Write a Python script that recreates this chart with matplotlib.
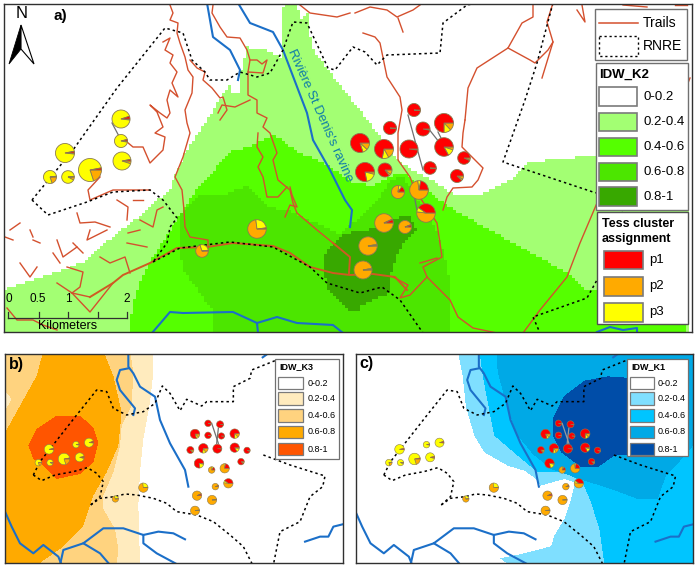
import numpy as np
import matplotlib
matplotlib.use("Agg")
import matplotlib.pyplot as plt
from matplotlib.colors import ListedColormap
from matplotlib.patches import Polygon, Rectangle
from matplotlib.path import Path

plt.rcParams['font.family'] = ['Liberation Sans', 'DejaVu Sans']

W, H = 697, 568

# sites: panel a in image pixels, panels b and c in their own map units
site_x_a = [121, 121, 122, 65, 90, 68, 50, 257, 202, 414, 444, 423, 390, 360, 384, 409, 444, 464, 430, 365, 385, 457, 419, 398, 426, 384, 405, 368, 363]
site_y_a = [119, 141, 161, 153, 170, 177, 177, 229, 251, 110, 123, 129, 128, 143, 149, 149, 147, 158, 168, 172, 170, 176, 190, 192, 213, 223, 227, 246, 270]
site_r_a = [9, 6.5, 9, 9.5, 11.5, 6.3, 6.5, 9.3, 6.3, 6.5, 9.5, 7, 6.5, 9.5, 9.5, 9, 9.3, 6.3, 6.3, 9.5, 7, 6.5, 9.3, 6.5, 9.3, 9.3, 6.5, 9.2, 9]
site_x_b = [267, 228, 239, 147, 192, 150, 115, 430, 346, 624, 704, 660, 624, 585, 610, 652, 704, 741, 664, 597, 571, 723, 674, 635, 685, 591, 646, 636, 585]
site_y_b = [308, 314, 352, 328, 357, 368, 368, 443, 477, 250, 281, 253, 286, 282, 325, 326, 323, 331, 288, 370, 330, 365, 385, 390, 430, 467, 440, 480, 512]
share_p1 = [.05, .04, .03, .03, .03, .01, .02, .02, .02, .98, .75, .97, .98, .80, .72, .98, .83, .93, .98, .78, .85, .88, .22, .15, .40, .06, .05, .01, .01]
share_p2 = [.02, .03, .05, .02, .20, .08, .20, .73, .70, .01, .13, .02, .01, .12, .17, .01, .05, .06, .01, .04, .11, .08, .73, .77, .52, .93, .94, .97, .97]
share_p3 = [.93, .93, .92, .95, .77, .91, .78, .25, .28, .01, .12, .01, .01, .08, .11, .01, .12, .01, .01, .18, .04, .04, .05, .08, .08, .01, .01, .02, .02]

class_labels = ['0-0.2', '0.2-0.4', '0.4-0.6', '0.6-0.8', '0.8-1']
tess_labels = ['p1', 'p2', 'p3']
colors_k2 = ['#FFFFFF', '#A3FF73', '#55FF00', '#4CE600', '#38A800']
colors_k3 = ['#FFFFFF', '#FFEBBE', '#FFD37F', '#FFAA00', '#FF5500']
colors_k1 = ['#FFFFFF', '#7FDFFF', '#00C5FF', '#00A9E6', '#004DA8']
tess_colors = ['#FF0000', '#FFAA00', '#FFFF00']
trail_col = '#D4502E'
river_col = '#1B6FC8'

# panel a zones
k2_light = [(4, 333), (4, 291), (33, 282), (87, 263), (110, 240), (140, 217), (170, 190), (187, 152), (213, 113), (233, 82), (233, 93), (242, 93), (242, 73), (248, 47), (267, 50), (282, 57), (283, 10), (287, 3), (297, 3), (302, 20), (310, 12), (312, 47), (350, 97), (400, 163), (443, 187), (457, 197), (477, 197), (493, 190), (513, 180), (527, 165), (557, 160), (597, 157), (692, 157), (692, 333)]
k2_bright = [(130, 333), (132, 310), (143, 277), (160, 247), (180, 217), (200, 187), (233, 152), (250, 148), (275, 135), (297, 152), (323, 163), (353, 183), (373, 187), (403, 173), (427, 190), (450, 208), (507, 240), (573, 277), (588, 293), (640, 290), (687, 277), (687, 333)]
k2_mid = [(213, 333), (215, 315), (183, 270), (180, 217), (200, 197), (223, 197), (247, 187), (267, 207), (293, 213), (340, 235), (363, 217), (380, 200), (390, 183), (403, 177), (413, 190), (427, 213), (437, 230), (445, 253), (450, 280), (450, 333)]
k2_dark = [(325, 260), (328, 253), (345, 235), (373, 230), (393, 220), (410, 217), (418, 232), (403, 245), (397, 260), (390, 280), (390, 295), (362, 307), (360, 313), (348, 312), (330, 293), (326, 277)]

# panel b zones
k3_light = [(10, 35), (460, 35), (460, 100), (450, 190), (430, 300), (420, 400), (415, 500), (420, 675), (10, 675)]
k3_soft = [(10, 35), (390, 35), (400, 100), (395, 200), (365, 260), (360, 320), (340, 400), (310, 470), (310, 510), (345, 570), (355, 630), (350, 675), (10, 675), (10, 225), (35, 180), (10, 150)]
k3_orange = [(130, 35), (310, 35), (340, 110), (365, 220), (355, 320), (320, 400), (280, 470), (250, 560), (180, 630), (115, 675), (10, 675), (10, 290), (60, 200), (110, 110)]
k3_deep = [(85, 320), (110, 270), (170, 230), (240, 230), (280, 265), (295, 310), (280, 370), (240, 405), (170, 420), (130, 380), (100, 360)]

# panel c zones
k1_white = [(10, 35), (320, 35), (335, 110), (345, 205), (370, 290), (400, 340), (470, 380), (520, 395), (555, 420), (568, 440), (640, 420), (672, 430), (660, 480), (640, 540), (610, 590), (600, 622), (510, 645), (447, 658), (470, 675), (10, 675)]
k1_cyan = [(385, 35), (1035, 35), (1035, 675), (760, 675), (745, 570), (720, 490), (695, 430), (640, 400), (560, 400), (500, 350), (430, 290), (415, 215), (395, 110)]
k1_mid = [(437, 35), (1035, 35), (1035, 310), (975, 380), (945, 410), (920, 480), (860, 480), (780, 450), (700, 425), (600, 390), (545, 345), (500, 290), (470, 210), (440, 100)]
k1_dark = [(605, 240), (640, 170), (700, 125), (770, 112), (880, 120), (880, 345), (790, 350), (740, 385), (690, 385), (630, 340), (605, 290)]

# trails in panel a
trails_main = [
    [(90, 297), (113, 283), (123, 275), (150, 263), (177, 248), (207, 247), (233, 243), (273, 246), (290, 253), (310, 267), (333, 273), (350, 275), (373, 274), (395, 277), (407, 290)],
    [(333, 243), (350, 257), (349, 273)],
]
trails_thin = [
    [(213, 5), (212, 13), (220, 27), (227, 37), (240, 38), (247, 50), (250, 60), (248, 72), (248, 95), (257, 100), (257, 113), (267, 118), (263, 127), (270, 133), (277, 153), (273, 160), (278, 180), (290, 190), (293, 203), (297, 213), (317, 230), (333, 243)],
    [(218, 113), (222, 105), (235, 107), (250, 100)],
    [(250, 60), (257, 60), (262, 64), (267, 60), (263, 73), (248, 72)],
    [(258, 133), (257, 147), (263, 157), (258, 167), (263, 177), (267, 197), (278, 197), (287, 187)],
    [(285, 217), (290, 205), (297, 207), (292, 195), (290, 187)],
    [(170, 5), (173, 13), (170, 20), (178, 23), (177, 33), (180, 43), (185, 57), (188, 70), (193, 77), (192, 93), (185, 110), (187, 123), (190, 133), (183, 157), (175, 177), (182, 190), (184, 210), (185, 227), (190, 237), (208, 240), (208, 248)],
    [(163, 42), (170, 38), (165, 50), (173, 55), (170, 63), (177, 72), (172, 83), (178, 97), (170, 90), (167, 100), (170, 113), (167, 118), (160, 113), (150, 105), (157, 112), (163, 127), (155, 133), (165, 137), (163, 150), (150, 163), (143, 147), (133, 147), (127, 142), (121, 140)],
    [(190, 60), (197, 68), (205, 72), (203, 80), (212, 88), (220, 98), (223, 97), (227, 110), (220, 120)],
    [(100, 177), (88, 190), (90, 200), (113, 190), (150, 190)],
    [(77, 213), (80, 223), (95, 222), (110, 227)], [(90, 230), (87, 240), (107, 230)], [(117, 200), (128, 207), (127, 220)],
    [(133, 200), (143, 200)], [(140, 220), (153, 227), (157, 210), (163, 207)], [(128, 233), (140, 230)], [(127, 243), (147, 247)],
    [(57, 240), (63, 257), (77, 247)], [(73, 243), (83, 253)], [(20, 263), (30, 277), (37, 267)], [(10, 230), (20, 223)],
    [(30, 230), (33, 237)], [(5, 237), (13, 240)], [(40, 243), (33, 240)], [(53, 253), (60, 263)],
    [(100, 257), (110, 263), (125, 257), (130, 273)], [(67, 267), (83, 272), (80, 287), (72, 293)],
    [(57, 283), (72, 293), (90, 312), (113, 283)], [(72, 293), (90, 297)], [(7, 308), (17, 320), (33, 320), (43, 325), (57, 330)],
    [(300, 5), (310, 13), (337, 17), (350, 13)], [(355, 13), (370, 7), (387, 10), (397, 17), (413, 10), (420, 5)], [(398, 18), (403, 32)],
    [(363, 33), (375, 37), (380, 43), (387, 77), (400, 97), (402, 110), (398, 133), (398, 160), (410, 177), (415, 190), (437, 223), (442, 257), (423, 267), (427, 277), (450, 300), (458, 317), (473, 328), (497, 333)],
    [(427, 277), (410, 295), (400, 298), (408, 285), (393, 277)],
    [(420, 263), (437, 258)],
    [(465, 120), (468, 88), (477, 68), (508, 48), (522, 23), (533, 17), (533, 3)],
    [(508, 48), (530, 60), (535, 63), (548, 50), (553, 42), (547, 22), (553, 3)],
    [(553, 42), (542, 78)],
    [(465, 120), (463, 133), (462, 147), (472, 157), (483, 168), (478, 180), (472, 187), (453, 188), (447, 197), (443, 210)],
    [(577, 10), (585, 22), (582, 5)], [(623, 5), (647, 7)], [(675, 5), (687, 5)], [(688, 83), (690, 78)],
    [(523, 333), (540, 310), (567, 277), (580, 243), (597, 203)],
]

# rivers and reserve outline in panel a
rivers_a = [
    [(238, 3), (250, 23), (273, 32), (283, 50), (307, 113), (313, 140), (330, 170), (345, 200), (352, 210), (350, 227)],
    [(207, 3), (213, 37), (230, 50), (240, 70), (238, 80)],
    [(152, 333), (170, 312), (183, 313), (233, 312), (257, 323), (277, 317), (297, 323), (333, 325), (343, 333)],
    [(257, 323), (258, 333)],
    [(597, 332), (610, 327), (623, 330), (637, 328), (637, 333)],
]
bound_a = [
    [(32, 200), (73, 150), (117, 88), (165, 28), (183, 33), (192, 60), (205, 72), (210, 80), (227, 80), (240, 72), (257, 77), (270, 73), (283, 50), (293, 22), (307, 23), (328, 68), (335, 70), (353, 47), (365, 52), (377, 65), (387, 55), (440, 53), (443, 23), (467, 5), (477, 3)],
    [(553, 3), (537, 63), (525, 100), (503, 162), (527, 170), (593, 192), (624, 200), (620, 222), (597, 280), (587, 298), (533, 317), (540, 333)],
    [(32, 200), (48, 215), (87, 202), (113, 192), (150, 190), (163, 200), (177, 218), (170, 227), (167, 243), (153, 262)],
    [(153, 262), (180, 248), (230, 242), (273, 247), (310, 267), (327, 283), (360, 293), (382, 287), (400, 300), (423, 333)],
]
leaders_a = [[(112, 123), (121, 140)], [(408, 115), (423, 170)], [(428, 128), (443, 147)], [(438, 132), (447, 150)], [(413, 190), (417, 210)]]

# rivers and reserve outline in panels b and c
rivers_b = [
    [(385, 35), (385, 80), (400, 100), (420, 140), (465, 170), (480, 240), (510, 310), (555, 390), (565, 440)],
    [(385, 85), (360, 90), (350, 120), (360, 150), (405, 205), (400, 225)],
    [(15, 515), (35, 560), (60, 610), (100, 640), (130, 615), (175, 650), (185, 675)],
    [(180, 675), (190, 630), (250, 610), (310, 565), (370, 565), (430, 585), (475, 575), (520, 580), (555, 598)],
    [(250, 610), (300, 640), (330, 675)],
    [(430, 585), (430, 610), (470, 640), (535, 675)],
    [(915, 605), (960, 590), (985, 590), (1000, 560), (1028, 553)],
    [(788, 52), (802, 42)],
]
bound_b = [
    [(100, 405), (120, 365), (230, 225), (290, 150), (320, 155), (340, 205), (380, 225), (430, 215), (465, 190), (487, 138), (510, 160), (540, 212), (560, 178), (605, 198), (620, 185), (700, 185), (700, 140), (750, 115), (755, 90), (830, 60)],
    [(100, 405), (125, 422), (165, 405), (220, 395), (262, 383), (290, 400), (310, 425), (300, 470), (272, 495)],
    [(272, 495), (300, 475), (345, 470), (375, 462), (410, 465), (460, 475), (500, 490), (530, 515), (590, 525), (640, 545), (690, 585), (730, 620), (758, 675)],
    [(790, 345), (870, 375), (975, 408), (968, 440), (930, 470), (900, 545), (840, 575), (820, 675)],
]
leaders_b = [[(635, 250), (655, 310)], [(655, 265), (650, 310)]]


def make_axes(x0, y0, x1, y1):
    ax = fig.add_axes([x0 / W, 1 - y1 / H, (x1 - x0) / W, (y1 - y0) / H])
    return ax


def draw_zones(ax, polys, colors, xlim, ylim, cell):
    # rasterise the zones so their edges look like the original grid
    xs = np.arange(xlim[0], xlim[1], cell) + cell / 2
    ys = np.arange(ylim[1], ylim[0], cell) + cell / 2
    gx, gy = np.meshgrid(xs, ys)
    pts = np.column_stack([gx.ravel(), gy.ravel()])
    grid = np.zeros(len(pts))
    for poly, level in polys:
        grid[Path(poly).contains_points(pts)] = level
    ax.imshow(grid.reshape(gx.shape), cmap=ListedColormap(colors), vmin=0, vmax=4,
              extent=(xlim[0], xlim[1], ylim[0], ylim[1]), origin='upper',
              interpolation='nearest', aspect='auto', zorder=1)


def draw_lines(ax, segs, color, lw, zorder, ls='-'):
    for seg in segs:
        arr = np.array(seg)
        ax.plot(arr[:, 0], arr[:, 1], color=color, lw=lw, ls=ls, zorder=zorder,
                solid_joinstyle='round')


def draw_pies(ax, xs, ys, rs, lw):
    for x, y, r, p1, p2, p3 in zip(xs, ys, rs, share_p1, share_p2, share_p3):
        # y axis is inverted, so the wedges run clockwise from east on screen
        ax.pie([p2, p3, p1], colors=[tess_colors[1], tess_colors[2], tess_colors[0]],
               center=(x, y), radius=r, startangle=0, frame=True,
               wedgeprops={'edgecolor': '#8A7A50', 'linewidth': lw, 'zorder': 5})


def finish(ax, xlim, ylim):
    ax.set_aspect('auto')
    ax.set_xlim(xlim)
    ax.set_ylim(ylim)
    ax.set_xticks([])
    ax.set_yticks([])
    for s in ax.spines.values():
        s.set_color('#303030')
        s.set_linewidth(1.0)
        s.set_zorder(20)


fig = plt.figure(figsize=(W / 100, H / 100), dpi=100)

# panel a
ax_a = make_axes(4, 4, 692, 332)
xlim_a, ylim_a = (4, 692), (332, 4)
ax_a.set_autoscale_on(False)
draw_zones(ax_a, [(k2_light, 1), (k2_bright, 2), (k2_mid, 3), (k2_dark, 4)], colors_k2, xlim_a, ylim_a, 3)
draw_lines(ax_a, rivers_a, river_col, 1.5, 2)
draw_lines(ax_a, trails_thin, trail_col, 1.0, 3)
draw_lines(ax_a, trails_main, '#CF5A22', 1.4, 3)
draw_lines(ax_a, bound_a, 'black', 1.1, 4, ls=(0, (1.6, 2.0)))
draw_lines(ax_a, leaders_a, '#707070', 0.9, 4)
draw_pies(ax_a, site_x_a, site_y_a, site_r_a, 0.6)
ax_a.text(291, 50, "Rivière St Denis's ravine", color='#0F7CA8', fontsize=9.5, rotation=-66,
          rotation_mode='anchor', ha='left', va='center', zorder=6)
ax_a.text(53, 16, 'a)', fontsize=11, fontweight='bold', ha='left', va='center', zorder=6)
ax_a.text(21.5, 14, 'N', fontsize=12, ha='center', va='center', zorder=6)
ax_a.add_patch(Polygon([(21, 25), (9, 64), (21, 49)], fc='black', ec='black', lw=0.6, zorder=6))
ax_a.add_patch(Polygon([(21, 25), (34, 64), (21, 49)], fc='white', ec='black', lw=0.8, zorder=6))
scale_x = [8, 39, 68, 98, 127]
ax_a.plot([8, 127], [318, 318], color='#303030', lw=0.9, zorder=6)
for sx in scale_x:
    ax_a.plot([sx, sx], [312, 318], color='#303030', lw=0.9, zorder=6)
for sx, lab in zip([9, 38, 68, 127], ['0', '0.5', '1', '2']):
    ax_a.text(sx, 299, lab, fontsize=8.5, ha='center', va='center', zorder=6)
ax_a.text(68, 326, 'Kilometers', fontsize=9, ha='center', va='center', zorder=6)
finish(ax_a, xlim_a, ylim_a)

# panel b
xlim_s, ylim_s = (15, 1028), (670, 42)
site_r_s = [r * 1.5 for r in site_r_a]
ax_b = make_axes(5, 354, 342.7, 563.3)
ax_b.set_autoscale_on(False)
draw_zones(ax_b, [(k3_light, 1), (k3_soft, 2), (k3_orange, 3), (k3_deep, 4)], colors_k3, xlim_s, ylim_s, 3)
draw_lines(ax_b, rivers_b, river_col, 1.5, 2)
draw_lines(ax_b, bound_b, 'black', 1.1, 4, ls=(0, (1.6, 2.0)))
draw_lines(ax_b, leaders_b, '#707070', 0.9, 4)
draw_pies(ax_b, site_x_b, site_y_b, site_r_s, 0.4)
ax_b.text(27, 74, 'b)', fontsize=11.5, fontweight='bold', ha='left', va='center', zorder=6)
finish(ax_b, xlim_s, ylim_s)

# panel c
ax_c = make_axes(355.5, 354, 693.2, 563.3)
ax_c.set_autoscale_on(False)
draw_zones(ax_c, [([(10, 35), (1035, 35), (1035, 675), (10, 675)], 1), (k1_white, 0), (k1_cyan, 2), (k1_mid, 3), (k1_dark, 4)], colors_k1, xlim_s, ylim_s, 3)
draw_lines(ax_c, rivers_b, river_col, 1.5, 2)
draw_lines(ax_c, bound_b, 'black', 1.1, 4, ls=(0, (1.6, 2.0)))
draw_lines(ax_c, leaders_b, '#9A9A9A', 0.9, 4)
draw_pies(ax_c, site_x_b, site_y_b, site_r_s, 0.4)
ax_c.text(27, 72, 'c)', fontsize=11.5, fontweight='bold', ha='left', va='center', zorder=6)
finish(ax_c, xlim_s, ylim_s)

# legends drawn on top of everything, in image pixels
lg = fig.add_axes([0, 0, 1, 1], facecolor='none')
lg.set_xlim(0, W)
lg.set_ylim(H, 0)
lg.axis('off')


def box(x0, y0, x1, y1, ec='#707070', lw=1.0):
    lg.add_patch(Rectangle((x0, y0), x1 - x0, y1 - y0, fc='white', ec=ec, lw=lw))


def swatch(x0, y0, x1, y1, color, lw=1.2):
    lg.add_patch(Rectangle((x0, y0), x1 - x0, y1 - y0, fc=color, ec='#7A7A7A', lw=lw))


box(595, 9, 687, 60)
lg.plot([599, 638], [23, 23], color=trail_col, lw=1.1)
lg.add_patch(Rectangle((599, 36), 39, 20, fc='white', ec='black', lw=1.0, ls=(0, (1.6, 2.0))))
lg.text(643, 23, 'Trails', fontsize=10, va='center')
lg.text(643, 46, 'RNRE', fontsize=10, va='center')

box(596, 63, 688, 210)
lg.text(599, 75, 'IDW_K2', fontsize=9.5, fontweight='bold', va='center')
for (y0, y1), col, lab in zip([(87, 106), (113, 131), (138, 156), (163, 181), (187, 206)], colors_k2, class_labels):
    swatch(599, y0, 637, y1, col)
    lg.text(643, (y0 + y1) / 2, lab, fontsize=9.5, va='center')

box(597, 212, 688, 324, ec='#505050')
lg.text(602, 224, 'Tess cluster', fontsize=9, fontweight='bold', va='center')
lg.text(602, 239, 'assignment', fontsize=9, fontweight='bold', va='center')
for (y0, y1), col, lab in zip([(251, 269), (277, 296), (303, 322)], tess_colors, tess_labels):
    swatch(604, y0, 643, y1, col)
    lg.text(649, (y0 + y1) / 2, lab, fontsize=9.5, va='center')

small_rows = [(377, 389), (392, 405), (409, 422), (426, 438), (443, 455)]
box(275, 359, 339, 459, lw=0.9)
lg.text(279, 367, 'IDW_K3', fontsize=6.5, fontweight='bold', va='center')
for (y0, y1), col, lab in zip(small_rows, colors_k3, class_labels):
    swatch(278, y0, 303, y1, col, lw=0.9)
    lg.text(308, (y0 + y1) / 2, lab, fontsize=6.5, va='center')

box(627, 359, 688, 456, lw=0.9)
lg.text(631, 367, 'IDW_K1', fontsize=6.5, fontweight='bold', va='center')
for (y0, y1), col, lab in zip(small_rows, colors_k1, class_labels):
    swatch(630, y0, 654, y1, col, lw=0.9)
    lg.text(658, (y0 + y1) / 2, lab, fontsize=6.5, va='center')

fig.savefig('out.png', dpi=100)
